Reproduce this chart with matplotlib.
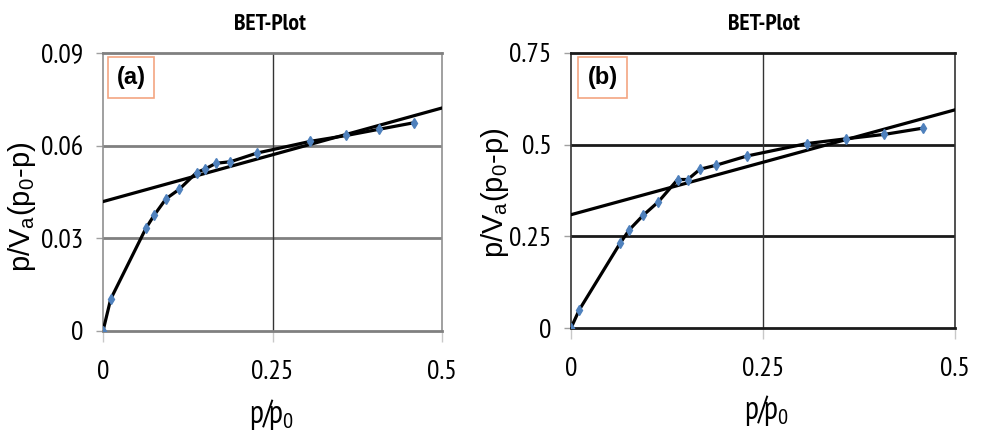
import numpy as np
import matplotlib
matplotlib.use("Agg")
from matplotlib import pyplot as plt
from matplotlib.patches import Rectangle

# relative pressure and BET values, panel (a)
x_a = [0, 0.0113, 0.0634, 0.0752, 0.0929, 0.1126, 0.138, 0.150, 0.1667, 0.188, 0.227, 0.306, 0.359, 0.407, 0.458]
y_a = [0, 0.0103, 0.0333, 0.0374, 0.0428, 0.0459, 0.0513, 0.0524, 0.0543, 0.0548, 0.0576, 0.0614, 0.0633, 0.0653, 0.0674]
fit_x_a = [0, 0.5]
fit_y_a = [0.0419, 0.0722]

# panel (b)
x_b = [0, 0.0109, 0.0642, 0.0760, 0.0938, 0.1137, 0.1389, 0.152, 0.168, 0.189, 0.229, 0.307, 0.358, 0.408, 0.458]
y_b = [0, 0.050, 0.232, 0.268, 0.307, 0.344, 0.405, 0.405, 0.433, 0.444, 0.469, 0.503, 0.516, 0.528, 0.545]
fit_x_b = [0, 0.5]
fit_y_b = [0.309, 0.595]

xticks = [0, 0.25, 0.5]
xtick_labels = ["0", "0.25", "0.5"]
yticks_a = [0, 0.03, 0.06, 0.09]
ytick_labels_a = ["0", "0.03", "0.06", "0.09"]
yticks_b = [0, 0.25, 0.5, 0.75]
ytick_labels_b = ["0", "0.25", "0.5", "0.75"]

narrow = ['PT Sans Narrow', 'Fira Sans Condensed', 'Asap Condensed', 'Carlito', 'DejaVu Sans']
plt.rcParams['font.family'] = narrow
plt.rcParams['mathtext.default'] = 'regular'

fig = plt.figure(figsize=(9.82, 4.38), dpi=100)
W, H = 982, 438


def make_panel(rect, xs, ys, fx, fy, yt, ytl, ymax, tag, grid_col, spine_col,
               title_x, xlab_xy, ylab_xy, box):
    l, t, r, b = rect
    ax = fig.add_axes([l / W, 1 - b / H, (r - l) / W, (b - t) / H])
    ax.set_xlim(0, 0.5)
    ax.set_ylim(0, ymax)
    glw = 2 if grid_col != 'black' else 1.4
    for yv in yt[1:-1]:
        ax.axhline(yv, color=grid_col, lw=glw, zorder=1)
    ax.axvline(0.25, color='#333333', lw=1, zorder=1)
    for side in ['left', 'right']:
        ax.spines[side].set_color(spine_col)
        ax.spines[side].set_linewidth(1.2)
    for side in ['top', 'bottom']:
        ax.spines[side].set_color(grid_col)
        ax.spines[side].set_linewidth(glw)
    ax.set_xticks(xticks)
    ax.set_xticklabels(xtick_labels)
    ax.set_yticks(yt)
    ax.set_yticklabels(ytl)
    ax.tick_params(axis='x', length=8, width=1, color='#c8c8c8', pad=13, labelsize=20)
    ax.tick_params(axis='y', length=5, width=1, color='#a0a0a0', pad=9, labelsize=20)
    ax.plot(fx, fy, color='black', lw=2.3, zorder=3)
    ax.plot(xs, ys, color='black', lw=2.3, marker='d', ms=5,
            mfc='#4F81BD', mec='#4F81BD', zorder=4)

    fig.text(title_x / W, 1 - 25 / H, "BET-Plot", ha='center', va='center',
             fontsize=17, fontweight='bold')
    fig.text(xlab_xy[0] / W, 1 - xlab_xy[1] / H, "p/p$_0$", ha='center', va='center',
             fontsize=23)
    fig.text(ylab_xy[0] / W, 1 - ylab_xy[1] / H, "p/V$_a$(p$_0$-p)", ha='center',
             va='center', rotation=90, fontsize=21, family=['Liberation Sans', 'DejaVu Sans'])
    bl, bt, br, bb = box
    fig.add_artist(Rectangle((bl / W, 1 - bb / H), (br - bl) / W, (bb - bt) / H,
                             transform=fig.transFigure, fc='white', ec='#F4A582', lw=1.2))
    fig.text((bl + br) / 2 / W, 1 - (bt + bb) / 2 / H, tag, ha='center', va='center',
             fontsize=17, fontweight='bold', family=['Liberation Sans', 'DejaVu Sans'])
    return ax


make_panel((103, 53, 442, 331), x_a, y_a, fit_x_a, fit_y_a, yticks_a, ytick_labels_a, 0.09,
           "(a)", '#808080', '#909090', 270, (271, 415), (22, 207), (108, 57, 154, 98))
make_panel((571, 53, 955, 328), x_b, y_b, fit_x_b, fit_y_b, yticks_b, ytick_labels_b, 0.75,
           "(b)", '#1a1a1a', '#333333', 764, (766, 410), (495, 193), (578, 57, 627, 98))

plt.savefig("out.png", dpi=100)
